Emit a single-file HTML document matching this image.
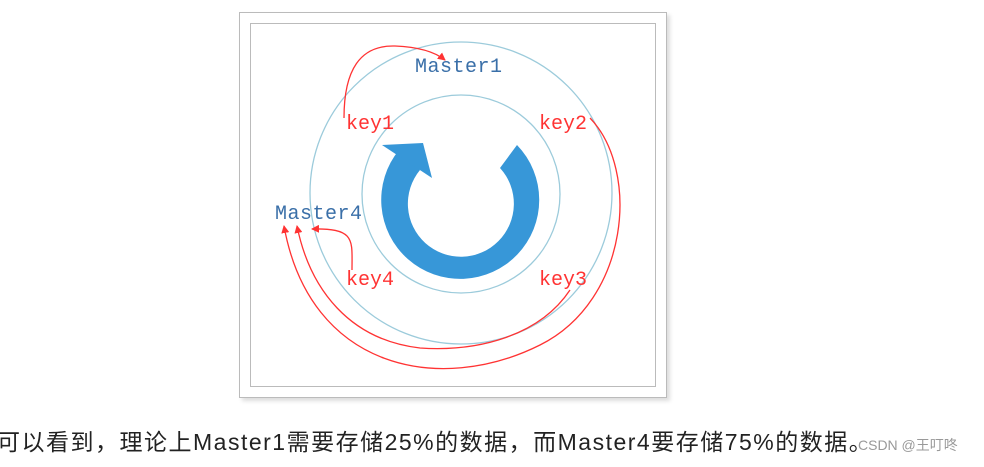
<!DOCTYPE html>
<html><head><meta charset="utf-8"><style>
body{margin:0;width:984px;height:467px;background:#fff;position:relative;overflow:hidden;font-family:"Liberation Sans","Noto Sans CJK SC",sans-serif}
.frame{position:absolute;left:239px;top:12px;width:426px;height:384px;border:1px solid #bbb;box-shadow:3px 3px 4px #ddd;background:#fff}
.inner{position:absolute;left:250px;top:23px;width:404px;height:362px;border:1px solid #bbb}
svg{position:absolute;left:0;top:0}
.cap{position:absolute;left:-3px;top:426px;font-size:23px;line-height:32px;color:#222;white-space:nowrap;letter-spacing:1.5px}
.wm{position:absolute;left:858px;top:435px;font-size:14px;color:#999;white-space:nowrap}
</style></head><body>
<div class="frame"></div><div class="inner"></div>
<svg width="984" height="467" viewBox="0 0 984 467">
<defs><marker id="a" markerWidth="8" markerHeight="8" refX="7" refY="4" orient="auto" markerUnits="userSpaceOnUse"><path d="M0,0 L8,4 L0,8 Z" fill="#f33"/></marker></defs>
<circle cx="461" cy="193" r="151" fill="none" stroke="#9ccbdb" stroke-width="1.3"/>
<circle cx="461" cy="194" r="99" fill="none" stroke="#9ccbdb" stroke-width="1.3"/>
<path d="M517,145 A79,79 0 1 1 399,150 L420,170 A53,53 0 1 0 500,168 Z" fill="#3797d8"/>
<path d="M382,145 L423,143 L432,178 Z" fill="#3797d8"/>
<g font-family="'Liberation Mono',monospace" font-size="20">
<text x="415" y="72" fill="#3a6fa8" textLength="87">Master1</text>
<text x="275" y="219" fill="#3a6fa8" textLength="87">Master4</text>
<text x="346" y="129" fill="#f33" textLength="48">key1</text>
<text x="539" y="129" fill="#f33" textLength="48">key2</text>
<text x="346" y="285" fill="#f33" textLength="48">key4</text>
<text x="539" y="285" fill="#f33" textLength="48">key3</text>
</g>
<g fill="none" stroke="#f33" stroke-width="1.3">
<path d="M344,118 C344,70 360,45 395,46 C420,47 435,52 445,60" marker-end="url(#a)"/>
<path d="M590,118 C640,170 630,300 540,345 C440,395 310,370 284,226" marker-end="url(#a)"/>
<path d="M570,290 C540,335 480,352 420,348 C350,340 310,290 297,226" marker-end="url(#a)"/>
<path d="M352,270 C352,240 356,228 312,229" marker-end="url(#a)"/>
</g>
</svg>
<div class="cap">可以看到，理论上Master1需要存储25%的数据，而Master4要存储75%的数据。</div>
<div class="wm">CSDN @王叮咚</div>
</body></html>
